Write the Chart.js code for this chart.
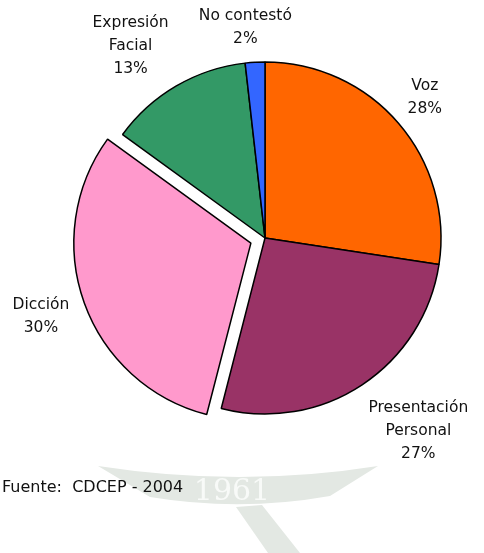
<!DOCTYPE html>
<html>
<head>
<meta charset="utf-8">
<script src="https://cdn.jsdelivr.net/npm/chart.js@4.4.1/dist/chart.umd.min.js"></script>
<style>
    html, body { margin: 0; padding: 0; background: #ffffff; }
    #wrap { width: 484px; height: 553px; position: relative; }
</style>
</head>
<body>
<div id="wrap"><canvas id="torta" width="484" height="553"></canvas></div>
<script>
// datos
const categorias = ['Voz', 'Presentación Personal', 'Dicción', 'Expresión Facial', 'No contestó'];
const valores = [27.4, 26.6, 31.0, 13.2, 1.8];
const porcentajes = ['28%', '27%', '30%', '13%', '2%'];
const colores = ['#FF6600', '#993366', '#FF99CC', '#339966', '#3366FF'];
const separado = [0, 0, 60, 0, 0]; // chart.js divide el offset entre 4

// lineas de cada etiqueta (texto partido como en el original)
const lineasEtiqueta = [
    ['Voz'],
    ['Presentación', 'Personal'],
    ['Dicción'],
    ['Expresión', 'Facial'],
    ['No contestó']
];
// ajuste de la etiqueta: giro en grados y factor de radio
const giroEtiqueta = [-0.7, -5, 0.4, -4.8, -2.1];
const radioEtiqueta = [1.21, 1.40, 1.35, 1.33, 1.20];

// marca de agua tenue del fondo (escudo 1961)
const marcaAgua = {
    id: 'marcaAgua',
    beforeDraw(chart) {
        let ctx = chart.ctx;
        ctx.save();
        ctx.fillStyle = '#e3e8e3';
        ctx.beginPath();
        ctx.moveTo(98, 466);
        ctx.quadraticCurveTo(240, 488, 378, 466);
        ctx.lineTo(330, 496);
        ctx.quadraticCurveTo(240, 512, 150, 497);
        ctx.closePath();
        ctx.fill();
        ctx.beginPath();
        ctx.moveTo(236, 507);
        ctx.lineTo(262, 505);
        ctx.lineTo(300, 553);
        ctx.lineTo(268, 553);
        ctx.closePath();
        ctx.fill();
        ctx.fillStyle = '#f8faf8';
        ctx.font = '30px "DejaVu Serif", serif';
        ctx.textAlign = 'center';
        ctx.textBaseline = 'middle';
        ctx.fillText('1961', 232, 492);
        ctx.restore();
    }
};

const etiquetas = {
    id: 'etiquetas',
    afterDraw(chart) {
        let ctx = chart.ctx;
        let meta = chart.getDatasetMeta(0);
        ctx.save();
        ctx.font = '15.5px "DejaVu Sans", Verdana, sans-serif';
        ctx.fillStyle = '#111111';
        ctx.textAlign = 'center';
        ctx.textBaseline = 'middle';
        let cx = chart.chartArea.left + (chart.chartArea.right - chart.chartArea.left) / 2;
        let cy = chart.chartArea.top + (chart.chartArea.bottom - chart.chartArea.top) / 2;
        meta.data.forEach(function (arc, i) {
            let medio = (arc.startAngle + arc.endAngle) / 2 + giroEtiqueta[i] * Math.PI / 180;
            let r = arc.outerRadius * radioEtiqueta[i];
            let x = cx + Math.cos(medio) * r;
            let y = cy + Math.sin(medio) * r;
            let lineas = lineasEtiqueta[i].concat([porcentajes[i]]);
            let alto = 23;
            let y0 = y - (lineas.length - 1) * alto / 2;
            lineas.forEach(function (t, k) {
                ctx.fillText(t, x, y0 + k * alto);
            });
        });
        // fuente
        ctx.textAlign = 'left';
        ctx.font = '16px "DejaVu Sans", Verdana, sans-serif';
        ctx.fillText('Fuente:  CDCEP - 2004', 2, 488);
        ctx.restore();
    }
};

let grafico = new Chart(document.getElementById('torta').getContext('2d'), {
    type: 'pie',
    data: {
        labels: categorias,
        datasets: [{
            data: valores,
            backgroundColor: colores,
            borderColor: '#000000',
            borderWidth: 1.5,
            offset: separado
        }]
    },
    options: {
        responsive: false,
        animation: false,
        radius: 176,
        layout: { padding: { left: 46, right: 0, top: 0, bottom: 77 } },
        plugins: {
            legend: { display: false },
            tooltip: { enabled: false }
        }
    },
    plugins: [marcaAgua, etiquetas]
});
</script>
</body>
</html>
